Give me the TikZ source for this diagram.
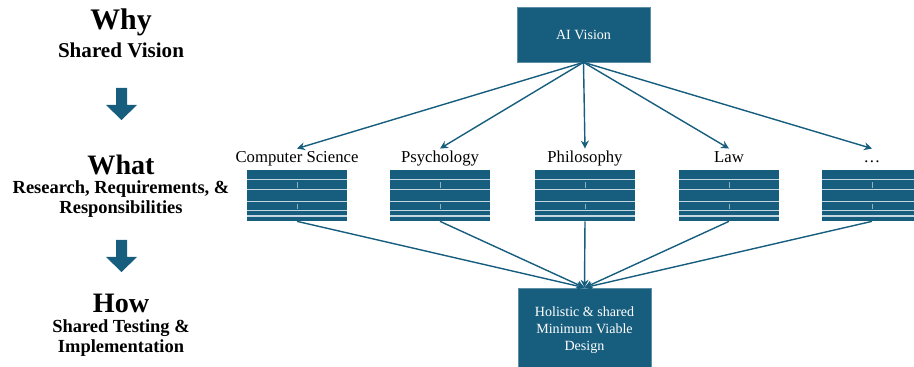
\documentclass[tikz,border=0pt]{standalone}
\usepackage{fontspec}
\setmainfont{Liberation Serif}
\usetikzlibrary{positioning,calc,arrows.meta}
\definecolor{VisBlue}{RGB}{23,94,126}
\definecolor{RowLine}{RGB}{196,214,224}
\tikzset{
  box/.style={fill=VisBlue,draw=VisBlue!70!white,text=white,align=center,inner sep=2pt,
    font=\fontsize{8}{9.5}\selectfont,minimum width=2.66cm},
  sheet/.style={fill=VisBlue,minimum width=2cm,minimum height=1.02cm,inner sep=0pt,
    path picture={
      \coordinate (nw) at (path picture bounding box.north west);
      \coordinate (sw) at (path picture bounding box.south west);
      \coordinate (ne) at (path picture bounding box.north east);
      \coordinate (se) at (path picture bounding box.south east);
      \foreach \f in {0.18,0.39,0.62,0.80,0.90}
        \draw[RowLine,line width=0.7pt] ($(nw)!\f!(sw)$) -- ($(ne)!\f!(se)$);
      \foreach \a/\b in {0.24/0.36,0.66/0.77}
        \draw[RowLine!70!VisBlue,line width=0.4pt]
          ($($(nw)!0.5!(ne)$)!\a!($(sw)!0.5!(se)$)$) -- ($($(nw)!0.5!(ne)$)!\b!($(sw)!0.5!(se)$)$);
    }},
  lbl/.style={font=\fontsize{9.5}{11}\selectfont,inner sep=1pt,text height=7pt,text depth=2.5pt},
  link/.style={draw=VisBlue,line width=0.8pt,-{Stealth[length=4.5pt,width=4.5pt]}},
  head/.style={font=\bfseries\fontsize{16}{18}\selectfont,inner sep=0pt},
  sub/.style={font=\bfseries\fontsize{10.5}{11}\selectfont,align=center,inner sep=0pt},
  down/.style={fill=VisBlue},
}

\begin{document}
\begin{tikzpicture}[x=0.02cm,y=-0.02cm]
  \useasboundingbox (0,0) rectangle (914,367);
  \clip (0,0) rectangle (914,367);

  % left column: why / what / how
  \node[head,font=\bfseries\fontsize{17}{18}\selectfont] (why) at (121,22) {Why};
  \node[sub,font=\bfseries\fontsize{12}{13}\selectfont] (why-s) at (121,50) {Shared Vision};
  \node[head] (what) at (121,165) {What};
  \node[sub] (what-s) at (121,199) {Research, Requirements, \&\\Responsibilities};
  \node[head] (how) at (121,303) {How};
  \node[sub] (how-s) at (121,338) {Shared Testing \&\\Implementation};
  \foreach \y in {88,240}
    \fill[down] (116,\y) -- (127,\y) -- (127,\y+17) -- (137,\y+17) -- (121.5,\y+32)
      -- (106,\y+17) -- (116,\y+17) -- cycle;

  % vision on top, design at the bottom
  \node[box,minimum height=1.1cm] (vision) at (583.5,34.5) {AI Vision};
  \node[box,minimum height=1.68cm] (mvd) at (584.5,330) {Holistic \& shared\\Minimum Viable\\Design};

  % one sheet per discipline
  \foreach \n/\x/\t in {cs/297/Computer Science,psy/440/Psychology,phil/585/Philosophy,law/729/Law,more/872/…}
  {
    \node[sheet] (\n) at (\x,195.5) {};
    \node[lbl] (\n-l) at (\x,159) {\t};
    \draw[link] (vision.south) -- (\n-l.north);
    \draw[link] (\n.south) -- (mvd.north);
  }
\end{tikzpicture}
\end{document}
